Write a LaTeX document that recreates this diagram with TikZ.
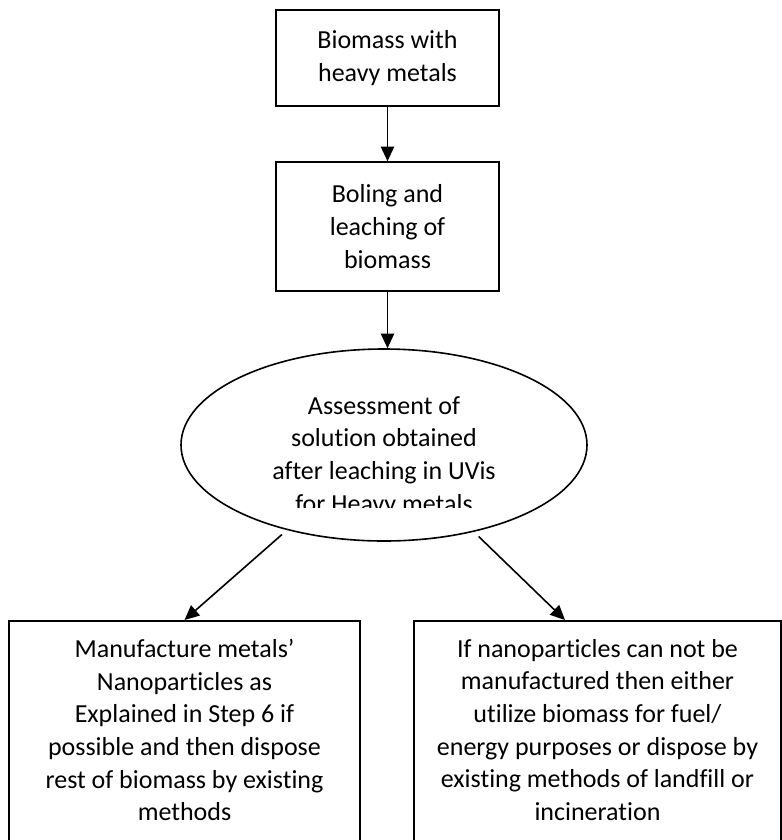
\documentclass[tikz,border=0pt]{standalone}
\usepackage{fontspec}
\setmainfont{Carlito}[Ligatures=NoCommon]
\usetikzlibrary{shapes.geometric,arrows.meta,positioning}

\begin{document}
\begin{tikzpicture}[x=0.75pt,y=0.75pt,yscale=-1,xscale=1,
    stagebox/.style={draw, line width=1.2pt, inner sep=0pt, align=center, font=\fontsize{19.5}{24.5}\selectfont},
    stagetext/.style={inner sep=0pt, align=center, font=\fontsize{19.5}{24.5}\selectfont},
    flowarr/.style={line width=1.2pt, -{Triangle[length=11pt,width=10pt]}}]
%set diagram left start at 0, and has height of 840
\useasboundingbox (0,0) rectangle (782,840);
\clip (0,0) rectangle (782,840);

%Shape: Rectangle [id:biomass]
\node[stagebox, minimum width=167.25pt, minimum height=72pt] (biomass) at (387.5,58) {Biomass with\\heavy metals};
%Shape: Rectangle [id:boiling]
\node[stagebox, minimum width=167.25pt, minimum height=96.75pt] (boiling) at (387.5,226.5) {Boling and\\leaching of\\biomass};
%Shape: Ellipse [id:assess]
\node[stagebox, ellipse, minimum width=304.5pt, minimum height=144pt] (assess) at (384,445) {};
% Text Node (cut off at the bottom)
\begin{scope}
  \clip (180,380) rectangle (590,507);
  \node[stagetext, anchor=north] (assesstxt) at (384,396) {Assessment of\\solution obtained\\after leaching in UVis\\for Heavy metals};
\end{scope}
%Shape: Rectangle [id:lbox]
\node[stagebox, anchor=north, minimum width=263.25pt, minimum height=195pt] (lbox) at (184.5,620) {};
%Shape: Rectangle [id:rbox]
\node[stagebox, anchor=north, minimum width=275.25pt, minimum height=195pt] (rbox) at (597.5,620) {};
% Text Node
\node[stagetext, anchor=north] (ltxt) at (184.5,639) {Manufacture metals’\\Nanoparticles as\\Explained in Step 6 if\\possible and then dispose\\rest of biomass by existing\\methods};
% Text Node
\node[stagetext, anchor=north] (rtxt) at (597.5,639) {If nanoparticles can not be\\manufactured then either\\utilize biomass for fuel/\\energy purposes or dispose by\\existing methods of landfill or\\incineration};

\coordinate (rtip) at (565,620);

%Straight Lines
\draw[flowarr] (biomass) -- (boiling);
\draw[flowarr] (boiling.south) -- (boiling.south |- assess.north);
\draw[flowarr, shorten <=5pt] (assess) -- (lbox.north);
\draw[flowarr, shorten <=5pt] (assess) -- (rtip);

\end{tikzpicture}
\end{document}
